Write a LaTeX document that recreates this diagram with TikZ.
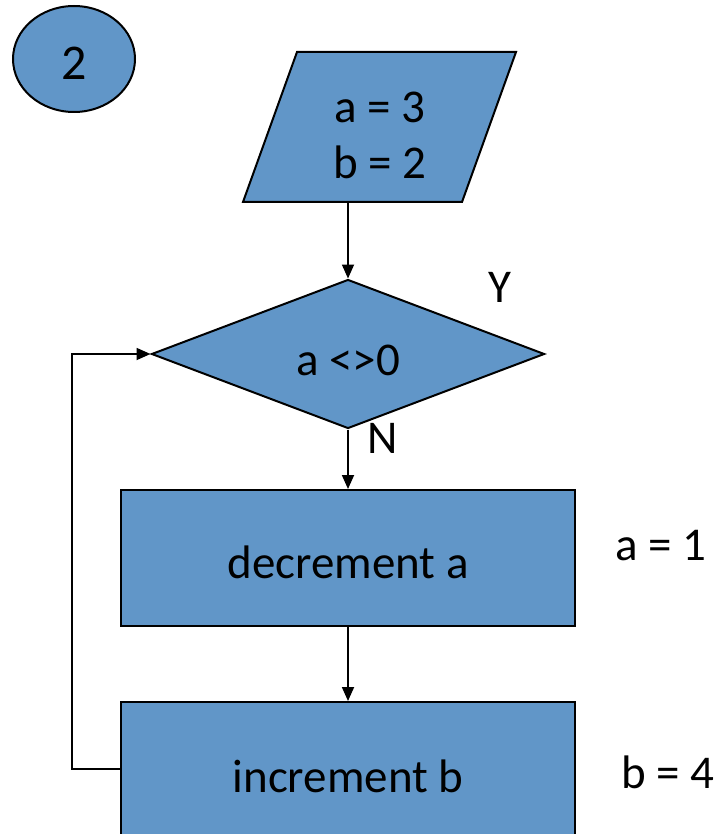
\documentclass[tikz,border=0pt]{standalone}
\usepackage{fontspec}
\setmainfont{Carlito}
\usetikzlibrary{shapes.geometric,arrows.meta}
\definecolor{fillblue}{RGB}{97,150,200}
\tikzset{
  shapebox/.style={draw=black,line width=2pt,fill=fillblue},
  procbox/.style={shapebox,rectangle,minimum width=454pt,minimum height=136pt,inner sep=0pt},
  lbl/.style={font=\fontsize{47}{56}\selectfont,inner sep=0pt,text=black},
  conn/.style={line width=1.8pt,-{Triangle[length=14pt,width=12pt]}}
}
\begin{document}
\begin{tikzpicture}[x=1pt,y=-1pt]
\useasboundingbox (0,0) rectangle (722,834);
\clip (0,0) rectangle (722,834);
% circle
\node[shapebox,ellipse,minimum width=122pt,minimum height=106pt,inner sep=0pt] (circ) at (74,59) {};
\node[lbl,font=\fontsize{50}{56}\selectfont] (circtxt) at (74,63) {2};
% parallelogram
\draw[shapebox] (297,52) -- (516,52) -- (462,202) -- (243,202) -- cycle;
\coordinate (parbot) at (348,202);
\node[lbl] (partxt1) at (380,107) {a = 3};
\node[lbl] (partxt2) at (380,162) {b = 2};
% diamond
\node[shapebox,diamond,minimum width=393pt,minimum height=149pt,aspect=2.64,inner sep=0pt] (dec) at (348,354) {};
\node[lbl] (dectxt) at (348,360) {a <>0};
\node[lbl] (ylbl) at (500,287) {Y};
\node[lbl] (nlbl) at (383,438) {N};
% boxes
\node[procbox] (box1) at (348,558) {};
\node[lbl] (box1txt) at (348,562) {decrement a};
\node[procbox,minimum height=148pt] (box2) at (348,776) {};
\node[lbl] (box2txt) at (348,776) {increment b};
\node[lbl] (alab) at (661,546) {a = 1};
\node[lbl] (blab) at (668,772) {b = 4};
% connectors
\draw[conn] (parbot) -- (dec.north);
\draw[conn] (dec.south) -- (box1.north);
\draw[conn] (box1.south) -- (box2.north);
\coordinate (loopA) at (72,769);
\coordinate (loopB) at (72,354);
\draw[conn] (box2.west |- loopA) -- (loopA) -- (loopB) -- (dec.west);
\end{tikzpicture}
\end{document}
